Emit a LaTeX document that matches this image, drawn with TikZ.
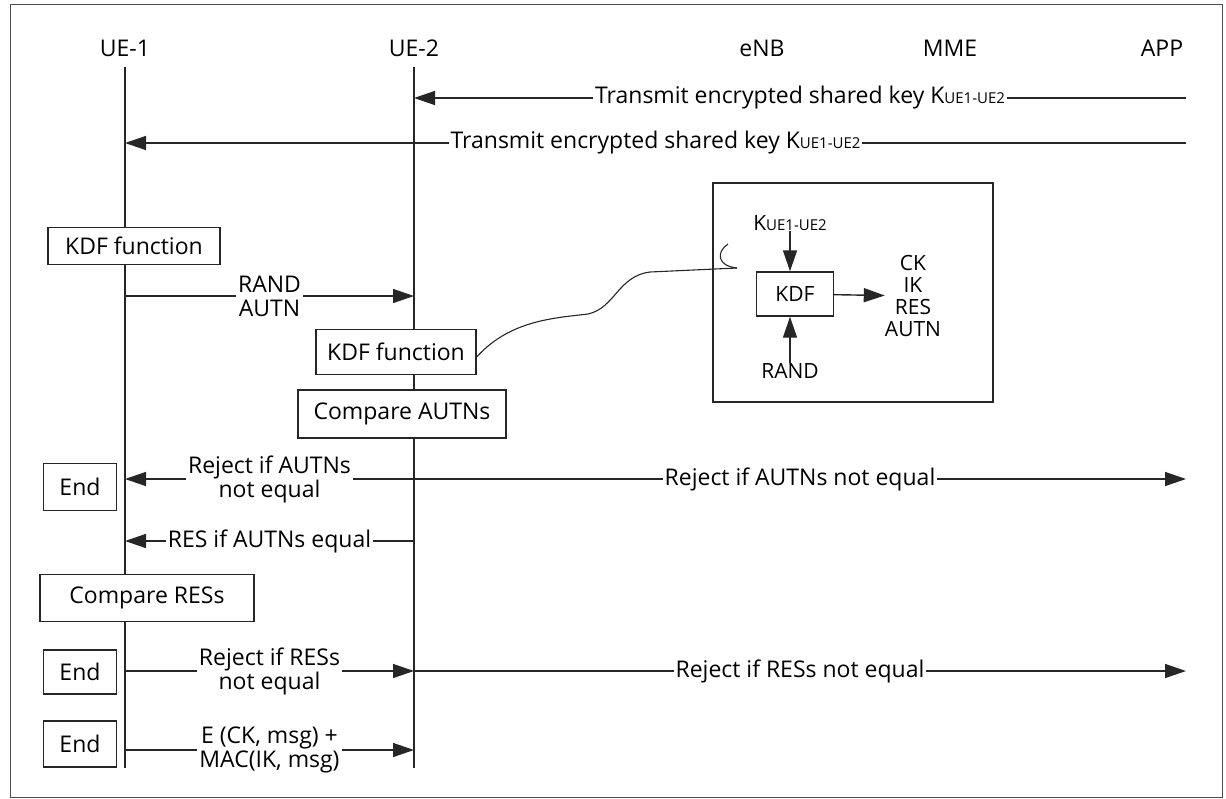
\documentclass[tikz,border=0pt]{standalone}
\usepackage{fontspec}
\setmainfont{Open Sans}
\usetikzlibrary{arrows.meta,positioning,calc}
\newcommand{\kshared}{K{\fontsize{15}{15}\selectfont UE1-UE2}}

\begin{document}
\begin{tikzpicture}[x=1pt,y=-1pt,
    font=\fontsize{23}{24}\selectfont,
    party/.style={inner sep=0pt,text=black},
    life/.style={line width=1.4pt,black!85},
    proc/.style={draw=black!85,line width=1.4pt,fill=white,inner sep=0pt,text=black},
    msg/.style={fill=white,inner xsep=2pt,inner ysep=0pt,align=center,text=black},
    flow/.style={-{Triangle[length=21pt,width=14pt]},line width=1.4pt,black!85}
  ]
    \useasboundingbox (0,0) rectangle (1226,798);
    \draw[black!70,line width=1pt] (10,4) rectangle (1222,797);

    % parties
    \node[party] (ue1) at (125,48) {UE-1};
    \node[party] (ue2) at (414,48) {UE-2};
    \node[party] (enb) at (762,48) {eNB};
    \node[party] (mme) at (950,48) {MME};
    \node[party] (app) at (1162,48) {APP};
    \coordinate (bot) at (0,768);
    \draw[life] ([yshift=-10pt]ue1.south) -- (ue1 |- bot);
    \draw[life] ([yshift=-10pt]ue2.south) -- (ue2 |- bot);

    % key delivery
    \coordinate (r1) at (1186,98);
    \coordinate (r2) at (1186,143);
    \draw[flow] (r1) -- (ue2 |- r1) node[msg,midway] {Transmit encrypted shared key \kshared};
    \draw[flow] (r2) -- (ue1 |- r2) node[msg,midway] {Transmit encrypted shared key \kshared};

    \node[proc,minimum width=172pt,minimum height=37pt] (kdf1) at (134,246) {KDF function};
    \coordinate (r3) at (0,296);
    \draw[flow] (ue1 |- r3) -- (ue2 |- r3) node[msg,midway] {RAND\\AUTN};
    \node[proc,minimum width=160pt,minimum height=45pt] (kdf2) at (396,352) {KDF function};
    \node[proc,minimum width=208pt,minimum height=48pt] (cmpa) at (402,414) {Compare AUTNs};

    % AUTN check
    \coordinate (r4) at (1186,479);
    \node[proc,minimum width=73pt,minimum height=47pt] (end1) at (80,487) {End};
    \draw[flow] (ue2 |- r4) -- (ue1 |- r4) node[msg,midway] {Reject if AUTNs\\not equal};
    \draw[flow] (ue2 |- r4) -- (r4) node[msg,midway] {Reject if AUTNs not equal};
    \coordinate (r5) at (0,541);
    \draw[flow] (ue2 |- r5) -- (ue1 |- r5) node[msg,midway] {RES if AUTNs equal};

    % RES check
    \node[proc,minimum width=214pt,minimum height=47pt] (cmpr) at (147,598) {Compare RESs};
    \coordinate (r6) at (1186,671);
    \node[proc,minimum width=73pt,minimum height=44pt] (end2) at (80,672) {End};
    \draw[flow] (ue1 |- r6) -- (ue2 |- r6) node[msg,midway] {Reject if RESs\\not equal};
    \draw[flow] (ue2 |- r6) -- (r6) node[msg,midway] {Reject if RESs not equal};
    \coordinate (r7) at (0,750);
    \node[proc,minimum width=73pt,minimum height=46pt] (end3) at (80,744) {End};
    \draw[flow] (ue1 |- r7) -- (ue2 |- r7) node[msg,midway] {E (CK, msg) +\\MAC(IK, msg)};

    % inset: KDF detail
    \node[draw=black!85,line width=1.4pt,minimum width=280pt,minimum height=219pt] (inset) at (853,292.5) {};
    \begin{scope}[font=\fontsize{21}{22}\selectfont]
      \node[proc,minimum width=77pt,minimum height=44pt] (kdf3) at (795,294) {KDF};
      \node[party] (kin) at (790,223) {\kshared};
      \node[party] (rin) at (790,371) {RAND};
      \node[party,align=center] (outs) at (913,296) {CK\\IK\\RES\\AUTN};
    \end{scope}
    \draw[flow] (kin) -- (kdf3.north -| kin);
    \draw[flow] (rin) -- (kdf3.south -| rin);
    \draw[flow] (kdf3) -- (outs);

    % callout from UE-2 KDF to inset
    \coordinate (hook) at (737,268);
    \draw[black!85,line width=1.1pt] ([yshift=-5pt]kdf2.east) .. controls (510,320) and (555,318) .. (588,314)
      .. controls (615,308) and (618,276) .. (650,272) -- (hook);
    \draw[black!85,line width=1.1pt] (728,244) .. controls (716,252) and (717,266) .. (hook);
\end{tikzpicture}
\end{document}
